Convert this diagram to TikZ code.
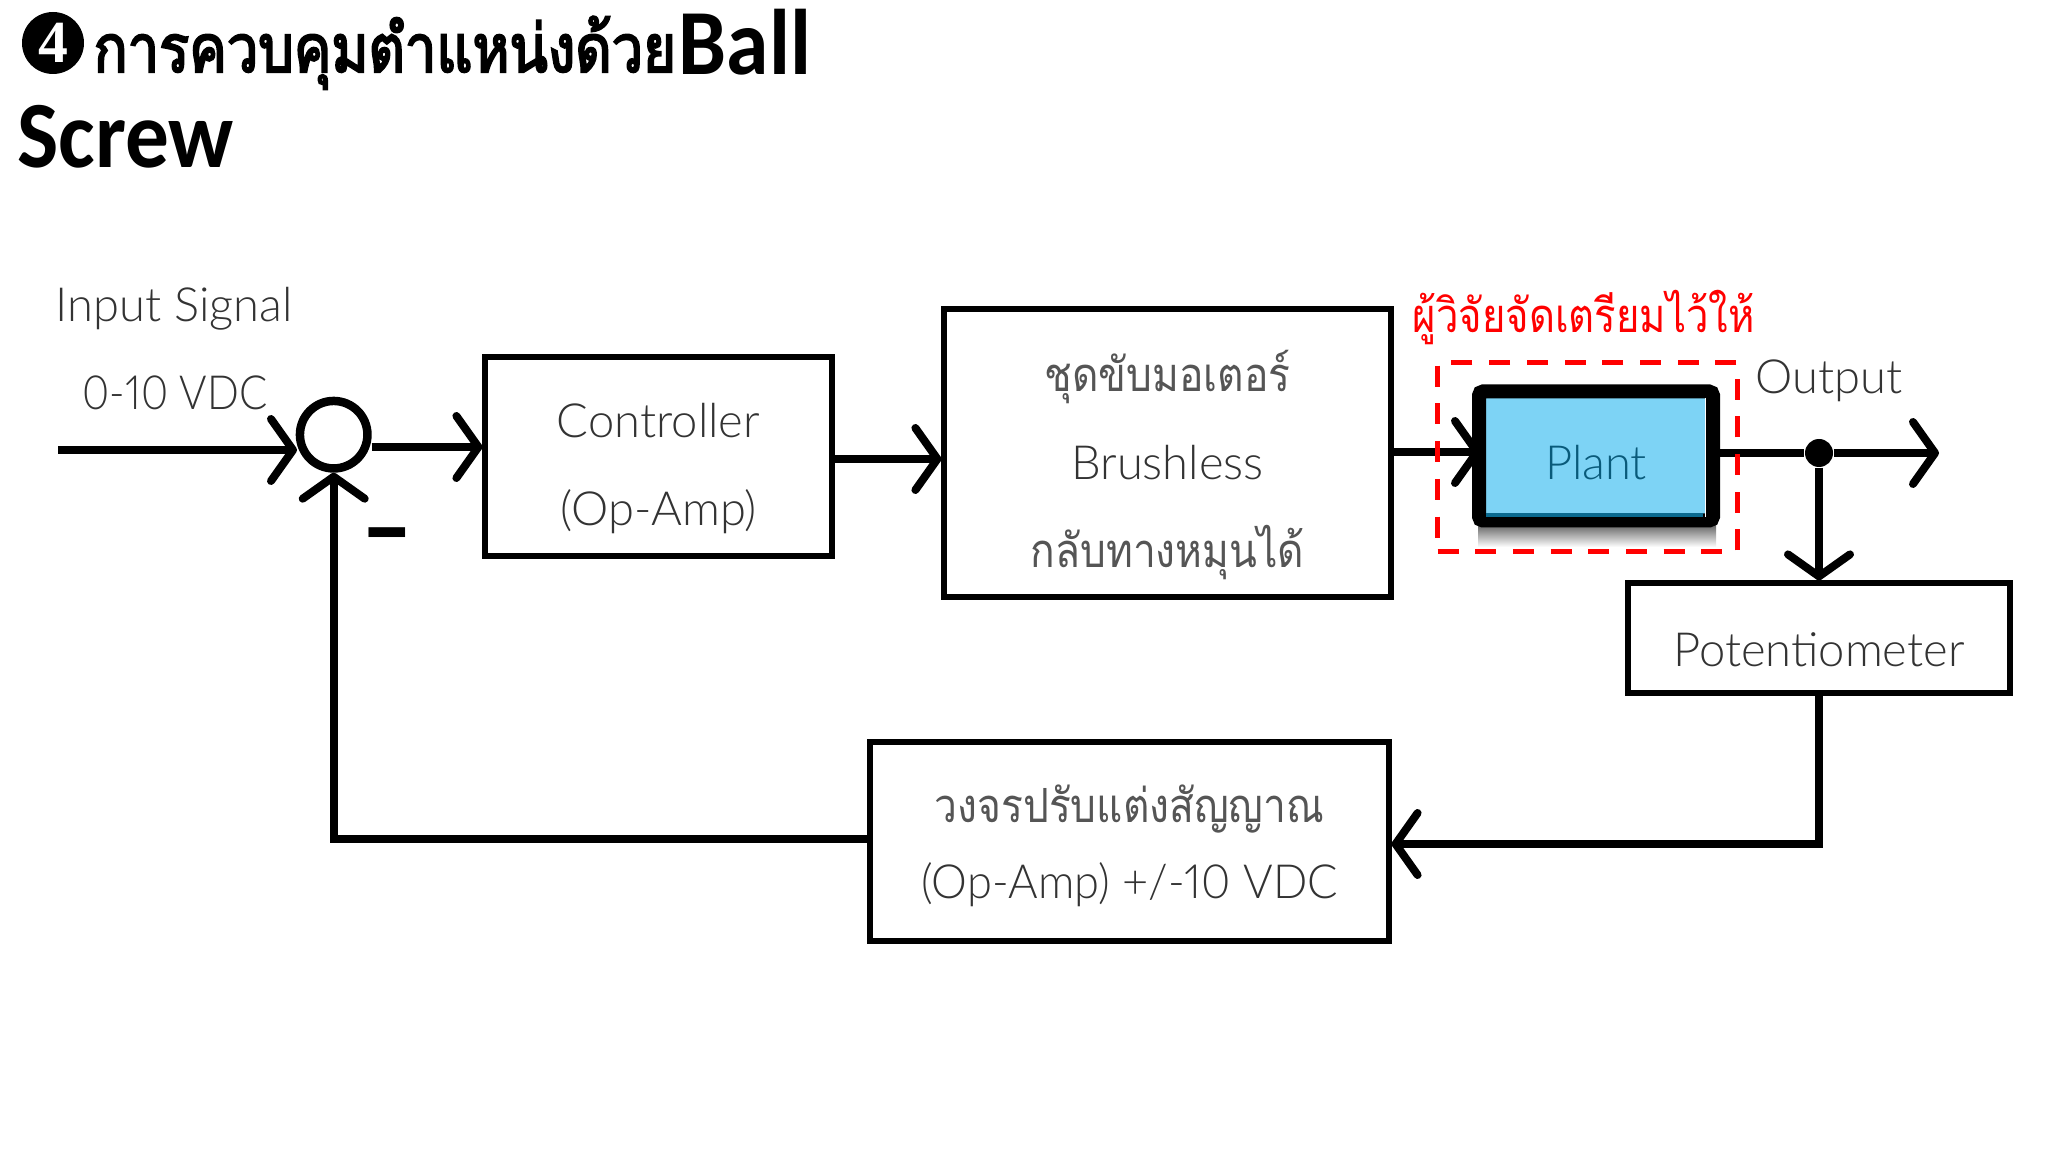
\documentclass[tikz,border=0pt]{standalone}
\usepackage{fontspec}
\setmainfont{Lato Light}[Numbers=Proportional]
\newfontfamily\thaifont[Script=Thai,FakeStretch=.865,Color=555555]{Loma}
\newfontfamily\redfont[Script=Thai,FakeStretch=.85]{Loma}
\newfontfamily\thaihead[Script=Thai,FakeStretch=.84,FakeBold=3]{Loma}
\newfontfamily\headfont[FakeStretch=.92]{Carlito}
\newfontfamily\numfont{Liberation Serif}
\usetikzlibrary{arrows.meta}
\definecolor{lightblue}{HTML}{7DD3F5}
\definecolor{textgray}{HTML}{333333}
\definecolor{deepteal}{HTML}{0B6A8F}
\newcommand{\lift}[1]{\rule{0pt}{#1}}
\tikzset{
  every node/.style={text=textgray},
  link/.style={line width=.08cm,-{Straight Barb[length=.22cm,width=.62cm,round]}},
  wire/.style={line width=.08cm},
  blockbox/.style={draw=black,line width=.052cm,fill=white,align=center,font=\fontsize{13.4}{25}\selectfont},
  label/.style={font=\fontsize{13.4}{17}\selectfont,anchor=base west,inner sep=0pt},
  headline/.style={anchor=base west,inner sep=0pt,text=black},
}
\begin{document}
\begin{tikzpicture}[y=-1cm]
\useasboundingbox (0,0) rectangle (20.48,11.52);
% title
\node[circle,fill=black,minimum size=.62cm,inner sep=0pt,text=white,font=\numfont\bfseries\fontsize{17}{17}\selectfont] (num) at (.53,.43) {4};
\node[headline,font=\thaihead\fontsize{19}{19}\selectfont] (headthai) at (.93,.72) {การควบคุมตำแหน่งด้วย};
\node[headline,font=\headfont\bfseries\fontsize{26.5}{27}\selectfont] (headball) at (6.78,.75) {Ball};
\node[headline,font=\headfont\bfseries\fontsize{27}{27}\selectfont] (headscrew) at (.17,1.68) {Screw};
% blocks
\node[circle,draw=black,line width=.085cm,minimum size=.675cm,inner sep=0pt] (sum) at (3.337,4.347) {};
\node[blockbox,minimum width=3.47cm,minimum height=1.99cm] (controller) at (6.585,4.565) {\lift{16.8pt}Controller\\(Op-Amp)};
\node[blockbox,minimum width=4.47cm,minimum height=2.88cm] (driver) at (11.675,4.53) {\lift{18.6pt}{\thaifont ชุดขับมอเตอร์}\\Brushless\\{\thaifont กลับทางหมุนได้}};
\shade[top color=black!60,bottom color=white] (14.78,5.25) rectangle (17.16,5.47);
\node[draw=black,line width=.14cm,rounded corners=.04cm,fill=lightblue,minimum width=2.34cm,minimum height=1.29cm,font=\fontsize{13.4}{17}\selectfont,text=deepteal!85!black] (plant) at (15.96,4.56) {\lift{13.5pt}Plant};
\fill[deepteal] (14.86,5.13) rectangle (17.03,5.17);
\draw[white,line width=.012cm] (17.055,3.98) -- (17.055,5.17);
\node[blockbox,minimum width=3.82cm,minimum height=1.1cm] (pot) at (18.19,6.38) {\lift{16.5pt}Potentiometer};
\node[blockbox,minimum width=5.19cm,minimum height=1.99cm,font=\fontsize{13.4}{21.6}\selectfont] (cond) at (11.295,8.415) {\lift{13pt}{\thaifont วงจรปรับแต่งสัญญาณ}\\\addfontfeature{FakeStretch=.96}(Op-Amp) +/-10 VDC};
\node[circle,fill=black,minimum size=.28cm,inner sep=0pt] (dot) at (18.19,4.53) {};
\coordinate (instart) at (.58,4.5);
\coordinate (outend) at (19.39,4.53);
% connectors
\draw[link] (instart) -- (2.97,4.5);
\draw[link] (sum.east |- 0,4.47) -- (controller.west |- 0,4.47);
\draw[link] (controller.east |- 0,4.59) -- (driver.west |- 0,4.59);
\draw[link,shorten >=-.09cm] (driver.east |- 0,4.52) -- (plant.west |- 0,4.52);
\draw[wire] (plant.east |- dot) -- (dot);
\draw[link] (dot) -- (outend);
\draw[link] (dot) -- (pot.north -| dot);
\draw[link] (pot.south -| dot) |- (cond.east |- 0,8.44);
\draw[link] (cond.west |- 0,8.39) -| (sum.south);
% labels
\node[label] (input) at (.55,3.22) {Input Signal};
\node[label] (range) at (.82,4.1) {\addfontfeature{FakeStretch=.89}0-10 VDC};
\node[label] (output) at (17.55,3.94) {Output};
\node[inner sep=0pt,text=black,font=\headfont\bfseries\fontsize{32}{32}\selectfont] (minus) at (3.875,5.46) {–};
\node[anchor=base west,inner sep=0pt,text=red,font=\redfont\fontsize{13.4}{17}\selectfont] (supplied) at (14.12,3.32) {ผู้วิจัยจัดเตรียมไว้ให้};
\node[draw=red,line width=.05cm,dash pattern=on .21cm off .167cm,minimum width=3cm,minimum height=1.89cm] (plantbound) at (15.875,4.575) {};
\end{tikzpicture}
\end{document}
